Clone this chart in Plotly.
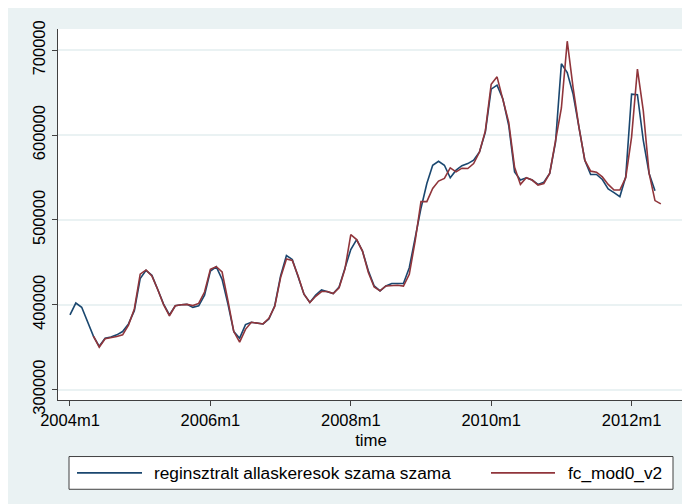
import plotly.graph_objects as go

# ---- data ----
tick_months = [0, 24, 48, 72, 96]
tick_labels = ["2004m1", "2006m1", "2008m1", "2010m1", "2012m1"]
y_ticks = [300000, 400000, 500000, 600000, 700000]

registered = [
    388000, 402000, 397000, 379000, 363000, 351000, 360600, 362000, 364500, 368400,
    377400, 393000, 430800, 440500, 434700, 418000, 400800, 388000, 398800, 400000,
    400400, 396900, 398800, 411300, 439800, 444800, 430000, 400800, 368400, 360600,
    376600, 379300, 378200, 377400, 383200, 398800, 434000, 458100, 453400, 434000,
    412500, 402700, 411300, 417500, 415600, 413200, 421000, 441700, 465100, 476800,
    463200, 440000, 422200, 416400, 422200, 425000, 425000, 425000, 443700, 478700,
    513800, 543000, 564500, 569200, 564500, 549700, 558700, 564000, 566400, 570400,
    580100, 603500, 654200, 658900, 642500, 611300, 556700, 547000, 549700, 547000,
    541900, 544500, 554800, 591800, 684200, 673700, 648300, 609400, 570400, 553600,
    553600, 547700, 536500, 532200, 527500, 550900, 648300, 647600, 593800, 554800,
    534500,
]

forecast = [
    None, None, None, None,
    363000, 350000, 360000, 361000, 362500, 364500,
    376000, 395000, 436000, 441000, 434000, 418000, 400000, 387000, 398800, 400000,
    400400, 399000, 401600, 415000, 441800, 444800, 438600, 404700, 368400, 356000,
    371000, 379300, 378200, 377400, 384000, 398000, 432000, 454000, 452200, 434000,
    412500, 402700, 410000, 415600, 415600, 413200, 420000, 442000, 482700, 476800,
    463200, 438000, 421000, 416400, 422200, 423000, 423000, 422000, 435900, 475000,
    521600, 521600, 537200, 545800, 548900, 561400, 556700, 561000, 560600, 566400,
    580100, 605000, 660000, 668700, 642500, 615000, 562000, 541900, 549700, 547000,
    541100, 543000, 554800, 591800, 632000, 710700, 656100, 609400, 570400, 557500,
    556300, 550700, 541900, 535300, 535300, 549800, 597700, 677900, 628900, 554800,
    522800, 518900,
]

series_names = ["reginsztralt allaskeresok szama szama", "fc_mod0_v2"]
series_colors = ["#1a476f", "#90353b"]

# ---- figure (page body adds an 8px offset) ----
W, H = 690, 504
OFF = 8
L, T = 58 - OFF, 26 - OFF
PR, PB = 684 - OFF, 400 - OFF      # plot right / bottom in figure pixels
R, B = W - PR, H - PB
pw, ph = PR - L, PB - T

def px(x):  # window pixel -> paper
    return (x - OFF - L) / pw

def py(y):
    return (PB - (y - OFF)) / ph

FONT = "Liberation Sans, Arial, sans-serif"
FS = 16.5
FS_LEG = 17.3

fig = go.Figure()
fig.add_trace(go.Scatter(x=list(range(len(registered))), y=registered, mode="lines",
                         line=dict(color=series_colors[0], width=1.6),
                         name=series_names[0], showlegend=False))
fig.add_trace(go.Scatter(x=list(range(len(forecast))), y=forecast, mode="lines",
                         line=dict(color=series_colors[1], width=1.6),
                         name=series_names[1], showlegend=False))

shapes = [
    dict(type="rect", xref="paper", yref="paper", x0=px(69), x1=px(673), y0=py(490), y1=py(457),
         fillcolor="white", line=dict(color="#404040", width=1)),
    dict(type="line", xref="paper", yref="paper", x0=px(77), x1=px(142), y0=py(473.5), y1=py(473.5),
         line=dict(color=series_colors[0], width=1.6)),
    dict(type="line", xref="paper", yref="paper", x0=px(491), x1=px(555), y0=py(473.5), y1=py(473.5),
         line=dict(color=series_colors[1], width=1.6)),
]
annotations = [
    dict(xref="paper", yref="paper", x=px(152), y=py(474), text=series_names[0],
         showarrow=False, xanchor="left", yanchor="middle",
         font=dict(family=FONT, size=FS_LEG, color="black")),
    dict(xref="paper", yref="paper", x=px(566), y=py(474), text=series_names[1],
         showarrow=False, xanchor="left", yanchor="middle",
         font=dict(family=FONT, size=FS_LEG, color="black")),
]

fig.update_layout(
    width=W, height=H,
    margin=dict(l=L, r=R, t=T, b=B, pad=0),
    paper_bgcolor="#eaf2f3",
    plot_bgcolor="white",
    font=dict(family=FONT, size=FS, color="black"),
    shapes=shapes,
    annotations=annotations,
    showlegend=False,
)
fig.update_xaxes(
    range=[-2.05, 104.96],
    tickmode="array", tickvals=tick_months, ticktext=tick_labels,
    ticks="outside", ticklen=5, tickwidth=1, tickcolor="#404040",
    showline=True, linecolor="#404040", linewidth=1,
    showgrid=False, zeroline=False,
    title=dict(text="time", standoff=6, font=dict(size=16.8)),
    tickfont=dict(size=FS),
)
fig.update_yaxes(
    range=[287700, 725100],
    tickmode="array", tickvals=y_ticks, ticktext=[str(v) for v in y_ticks],
    tickangle=-90,
    ticks="outside", ticklen=5, tickwidth=1, tickcolor="#404040",
    showline=True, linecolor="#404040", linewidth=1,
    showgrid=True, gridcolor="#eaf2f3", gridwidth=1.5, zeroline=False,
    tickfont=dict(size=FS),
)

fig.write_html("out.html")
